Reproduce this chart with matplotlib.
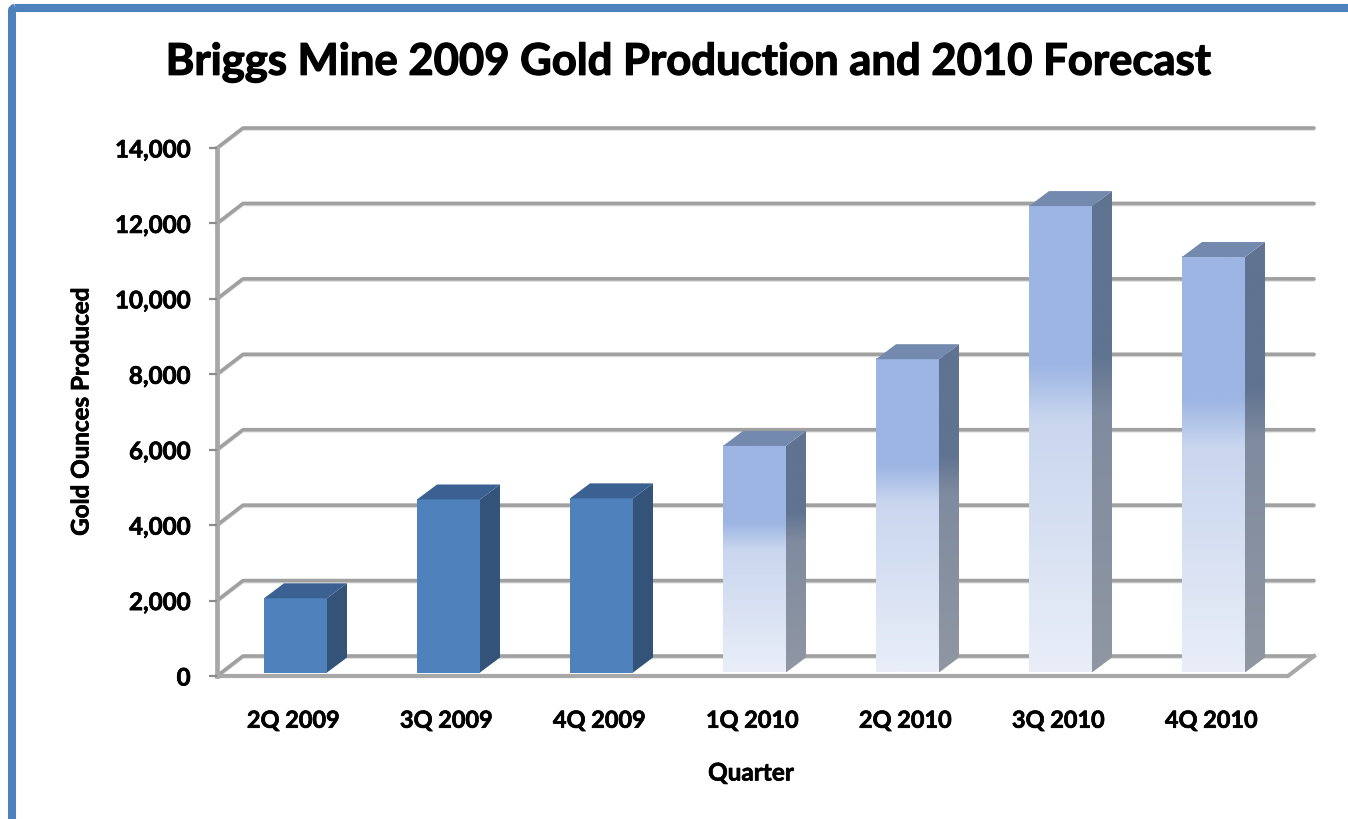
import numpy as np
import matplotlib
matplotlib.use('Agg')
import matplotlib.pyplot as plt
import matplotlib.patheffects as pe
from matplotlib.colors import LinearSegmentedColormap
from matplotlib.patches import Polygon, FancyBboxPatch

plt.rcParams['font.family'] = ['Lato', 'DejaVu Sans']
plt.rcParams['font.weight'] = 'bold'

#data
quarters = ['2Q 2009', '3Q 2009', '4Q 2009', '1Q 2010', '2Q 2010', '3Q 2010', '4Q 2010']
ounces = [2060, 4680, 4710, 6100, 8400, 12460, 11110]
isForecast = [False, False, False, True, True, True, True]
yTicks = [0, 2000, 4000, 6000, 8000, 10000, 12000, 14000]

W, H = 1348, 820
fig = plt.figure(figsize=(W/100, H/100), dpi=100)

#blue frame, open at the bottom and right
bg = fig.add_axes([0, 0, 1, 1])
bg.set_xlim(0, W)
bg.set_ylim(H, 0)
bg.axis('off')
bg.add_patch(FancyBboxPatch((12, 9), W+50, H+50, boxstyle='round,pad=0,rounding_size=3',
                            fc='none', ec='#4f81bd', lw=5.8))

#main axes cover the front plane of the 3d box
left, right, bottom, top = 217, 1288, 677, 149
ax = fig.add_axes([left/W, 1-bottom/H, (right-left)/W, (bottom-top)/H])
ax.set_xlim(0, len(quarters))
ax.set_ylim(0, 14000)
ax.patch.set_alpha(0)
for s in ax.spines.values():
    s.set_visible(False)

pxX = len(quarters)/(right-left)
pxY = 14000/(bottom-top)
depthX = 26*pxX
depthY = 20*pxY
gridCol = '#a0a0a0'

#back wall and side wall lines, light shadow underneath
for y in yTicks:
    xs = [0, depthX, len(quarters)+depthX]
    ys = [y, y+depthY, y+depthY]
    ax.plot(xs, np.array(ys)-1.5*pxY, color='#dcdcdc', lw=2, clip_on=False, zorder=1, solid_capstyle='round')
    ax.plot(xs, ys, color=gridCol, lw=2.6, clip_on=False, zorder=1.1, solid_capstyle='round')
ax.plot([0, 0], [0, 14000], color='#a8a8a8', lw=3.4, clip_on=False, zorder=1.2)
ax.plot([0, len(quarters), len(quarters)+depthX], [0, 0, depthY], color='#a8a8a8', lw=3, clip_on=False, zorder=1.2)

#bars
barW = 63*pxX
barX = 47*pxX
stepX = 153*pxX
base = 3.5*pxY
bdX = 20*pxX
bdY = 15*pxY

lightFace = LinearSegmentedColormap.from_list('lf', [(0, '#e9eef8'), (0.54, '#c9d6ee'), (0.66, '#9cb5e3'), (1, '#9cb5e3')])
lightSide = LinearSegmentedColormap.from_list('ls', [(0, '#9097a3'), (0.54, '#7f8b9f'), (0.66, '#607391'), (1, '#607391')])
grad = np.linspace(0, 1, 256)[:, None]

for i, (v, fc) in enumerate(zip(ounces, isForecast)):
    x0 = barX + i*stepX
    x1 = x0 + barW
    face = [(x0, base), (x1, base), (x1, v), (x0, v)]
    side = [(x1, base), (x1+bdX, base+bdY), (x1+bdX, v+bdY), (x1, v)]
    roof = [(x0, v), (x1, v), (x1+bdX, v+bdY), (x0+bdX, v+bdY)]
    if fc:
        im = ax.imshow(grad, origin='lower', aspect='auto', cmap=lightFace, vmin=0, vmax=1,
                       extent=[x0, x1, base, v], zorder=3)
        im2 = ax.imshow(grad, origin='lower', aspect='auto', cmap=lightSide, vmin=0, vmax=1,
                        extent=[x1, x1+bdX, base, v+bdY], zorder=3)
        sidePatch = Polygon(side, closed=True, fc='none', ec='none', transform=ax.transData)
        ax.add_patch(sidePatch)
        im2.set_clip_path(sidePatch)
        ax.add_patch(Polygon(roof, closed=True, fc='#7389ae', ec='none', zorder=3))
    else:
        ax.add_patch(Polygon(face, closed=True, fc='#4f81bd', ec='none', zorder=3))
        ax.add_patch(Polygon(side, closed=True, fc='#335378', ec='none', zorder=3))
        ax.add_patch(Polygon(roof, closed=True, fc='#3a6191', ec='none', zorder=3))
ax.set_xlim(0, len(quarters))
ax.set_ylim(0, 14000)

#ticks and labels
heavy = [pe.withStroke(linewidth=0.5, foreground='black')]
ax.set_yticks(yTicks)
ax.set_yticklabels([f'{y:,}' for y in yTicks], fontsize=17.4, fontweight='bold', path_effects=heavy)
ax.tick_params(axis='y', length=6, width=1.6, color='#8c8c8c', pad=13)
ax.set_xticks(np.arange(len(quarters))+0.5)
ax.set_xticklabels(quarters, fontsize=16.9, fontweight='bold', path_effects=heavy)
ax.tick_params(axis='x', length=0, pad=25)

bg.text(689, 63, 'Briggs Mine 2009 Gold Production and 2010 Forecast', fontsize=31.4,
        fontweight='bold', ha='center', va='center', path_effects=[pe.withStroke(linewidth=0.9, foreground='black')])
bg.text(751, 774, 'Quarter', fontsize=17.5, fontweight='bold', ha='center', va='center', path_effects=heavy)
bg.text(81, 413, 'Gold Ounces Produced', fontsize=17.4, fontweight='bold', ha='center', va='center', rotation=90, path_effects=heavy)

fig.savefig('out.png', dpi=100)
